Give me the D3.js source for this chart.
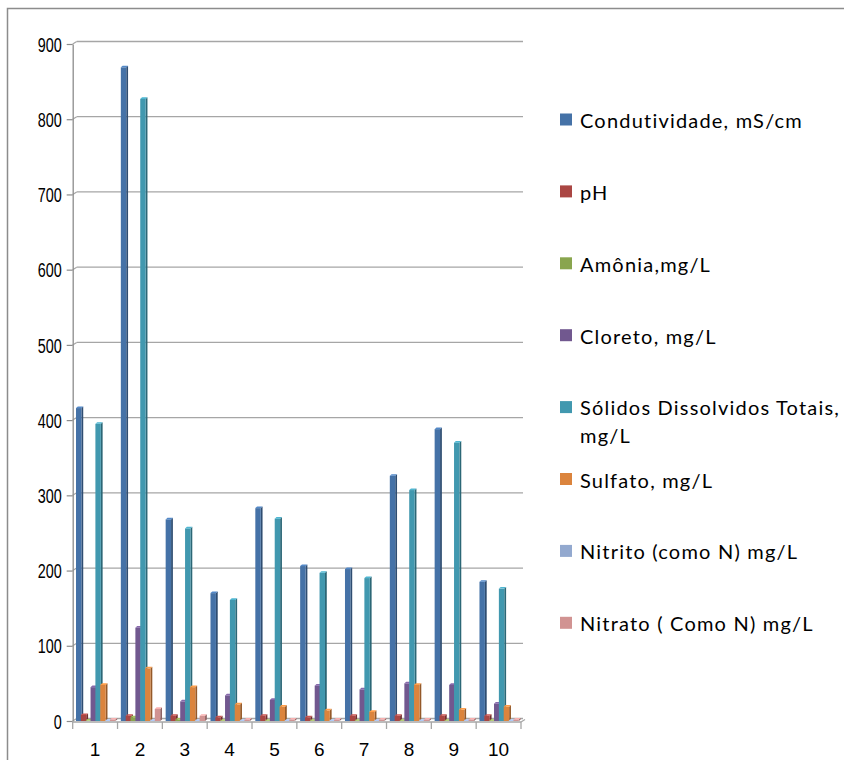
<!DOCTYPE html>
<html>
<head>
<meta charset="utf-8">
<script src="https://cdn.jsdelivr.net/npm/d3@7"></script>
<style>
  html, body { margin: 0; padding: 0; background: #fff; }
  svg { display: block; font-family: Lato, "Open Sans", sans-serif; }
</style>
</head>
<body>
<svg id="chart" width="844" height="760"></svg>
<script>
// Sampling points 1..10
const categories = ["1", "2", "3", "4", "5", "6", "7", "8", "9", "10"];

// Measured parameters per sampling point
const condutividade = [416, 869, 268, 170, 283, 206, 202, 326, 388, 185];
const pH            = [8, 7, 7, 5, 7, 5, 7, 7, 7, 7];
const amonia        = [0.5, 5, 2, 0.3, 0.3, 0.3, 0.3, 0.3, 0.3, 0.3];
const cloreto       = [45, 124, 26, 34, 28, 47, 42, 50, 48, 23];
const solidos       = [395, 827, 256, 161, 269, 197, 190, 307, 370, 176];
const sulfato       = [48, 70, 45, 22, 19, 14, 12, 48, 15, 19];
const nitrito       = [0.1, 0.1, 0.1, 0.1, 0.1, 0.1, 0.1, 0.1, 0.1, 0.1];
const nitrato       = [2, 16, 7, 2, 2, 2, 2, 2, 2, 2];

const seriesNames = [
  "Condutividade, mS/cm",
  "pH",
  "Amônia,mg/L",
  "Cloreto, mg/L",
  "Sólidos Dissolvidos Totais, mg/L",
  "Sulfato, mg/L",
  "Nitrito (como N) mg/L",
  "Nitrato ( Como N) mg/L"
];
const seriesValues = [condutividade, pH, amonia, cloreto, solidos, sulfato, nitrito, nitrato];

const yTicks = [0, 100, 200, 300, 400, 500, 600, 700, 800, 900];

// ---- styling / layout ----
const colors = ["#4572A7", "#AA4643", "#89A54E", "#71588F", "#4198AF", "#DB843D", "#93A9CF", "#D19392"];
const gridColor = "#a6a6a6";
const depthX = 4, depthY = 2.5;   // back-wall offset of the 3-D plot
const axisX = 72.7;

const svg = d3.select("#chart");

// chart area frame (top and left edges)
svg.append("path")
  .attr("d", "M7.5,760 V8.5 H844")
  .attr("fill", "none")
  .attr("stroke", "#8c8c8c")
  .attr("stroke-width", 1.5);

const y = d3.scaleLinear().domain([0, 900]).range([721, 44]);
const x0 = d3.scaleBand().domain(categories).range([axisX, 521]);
const x1 = d3.scaleBand().domain(seriesNames).range([3.3, 42.1]);

// back-wall gridlines and their connectors to the front axis
const grid = svg.append("g");
grid.selectAll("line.grid").data(yTicks).join("line")
  .attr("class", "grid")
  .attr("x1", axisX + depthX).attr("x2", 523)
  .attr("y1", d => y(d) - depthY).attr("y2", d => y(d) - depthY)
  .attr("stroke", gridColor).attr("stroke-width", 1.3);
grid.selectAll("line.diag").data(yTicks).join("line")
  .attr("class", "diag")
  .attr("x1", axisX).attr("x2", axisX + depthX)
  .attr("y1", d => y(d)).attr("y2", d => y(d) - depthY)
  .attr("stroke", gridColor).attr("stroke-width", 1.2);

// value axis
const yAxis = svg.append("g")
  .attr("transform", `translate(${axisX},0)`)
  .call(d3.axisLeft(y).tickValues(yTicks).tickSize(6).tickSizeOuter(0).tickPadding(5).tickFormat(d3.format("d")));
yAxis.select(".domain").attr("stroke", "#8c8c8c").attr("stroke-width", 1.3);
yAxis.selectAll(".tick line").attr("stroke", "#8c8c8c").attr("stroke-width", 1.2);
yAxis.selectAll(".tick text")
  .attr("fill", "#000")
  .style("font-size", "20px")
  .attr("dy", "0.36em")
  .attr("textLength", function () { return this.textContent.length * 8; })
  .attr("lengthAdjust", "spacingAndGlyphs");

// floor edge with category tick marks at band boundaries
const floorY = 722;
svg.append("line")
  .attr("x1", axisX).attr("x2", 521)
  .attr("y1", floorY).attr("y2", floorY)
  .attr("stroke", "#a6a6a6").attr("stroke-width", 1.5);
svg.append("line")
  .attr("x1", 521).attr("x2", 521 + depthX)
  .attr("y1", floorY).attr("y2", floorY - depthY)
  .attr("stroke", "#a6a6a6").attr("stroke-width", 1.2);
const bounds = categories.map(c => x0(c)).concat([x0.range()[1]]);
svg.append("g").selectAll("line").data(bounds).join("line")
  .attr("x1", d => d).attr("x2", d => d)
  .attr("y1", floorY).attr("y2", floorY + 7)
  .attr("stroke", "#a6a6a6").attr("stroke-width", 1.3);

// category labels
const xAxis = svg.append("g")
  .attr("transform", `translate(0,${floorY})`)
  .call(d3.axisBottom(x0).tickSize(0).tickPadding(21));
xAxis.select(".domain").remove();
xAxis.selectAll(".tick text").attr("fill", "#000").style("font-size", "19px");

// 3-D columns
const bw = x1.bandwidth() * 1.12, side = 1.8, topH = 1.6;
const base = y(0);
const barData = [];
categories.forEach((c, i) => {
  seriesNames.forEach((s, k) => {
    barData.push({ cat: c, series: s, k, value: seriesValues[k][i] });
  });
});
const bars = svg.append("g").selectAll("g.bar").data(barData).join("g").attr("class", "bar");
bars.each(function (d) {
  const g = d3.select(this);
  const x = x0(d.cat) + x1(d.series);
  const t = y(d.value);
  const c = d3.color(colors[d.k]);
  // right side
  g.append("path")
    .attr("d", `M${x + bw},${t} L${x + bw + side},${t - topH} L${x + bw + side},${base - topH} L${x + bw},${base} Z`)
    .attr("fill", c.darker(1.1));
  // front face
  g.append("rect")
    .attr("x", x).attr("y", t)
    .attr("width", bw).attr("height", Math.max(0, base - t))
    .attr("fill", c);
  // top
  g.append("path")
    .attr("d", `M${x},${t} L${x + side},${t - topH} L${x + bw + side},${t - topH} L${x + bw},${t} Z`)
    .attr("fill", c.brighter(0.5));
});

// legend
const legendBase = 128, legendStep = 71.9;
const legend = svg.append("g");
seriesNames.forEach((name, k) => {
  const by = legendBase + k * legendStep;
  legend.append("rect")
    .attr("x", 560).attr("y", by - 14.5)
    .attr("width", 12).attr("height", 12)
    .attr("fill", colors[k]);
  const lines = name === "Sólidos Dissolvidos Totais, mg/L"
    ? ["Sólidos Dissolvidos Totais,", "mg/L"]
    : [name];
  const txt = legend.append("text")
    .attr("x", 580).attr("y", by - (lines.length > 1 ? 1 : 0))
    .style("font-size", "20px")
    .style("letter-spacing", "1.2px")
    .attr("fill", "#000");
  lines.forEach((ln, j) => {
    txt.append("tspan").attr("x", 580).attr("dy", j === 0 ? 0 : 28.3).text(ln);
  });
});
</script>
</body>
</html>
